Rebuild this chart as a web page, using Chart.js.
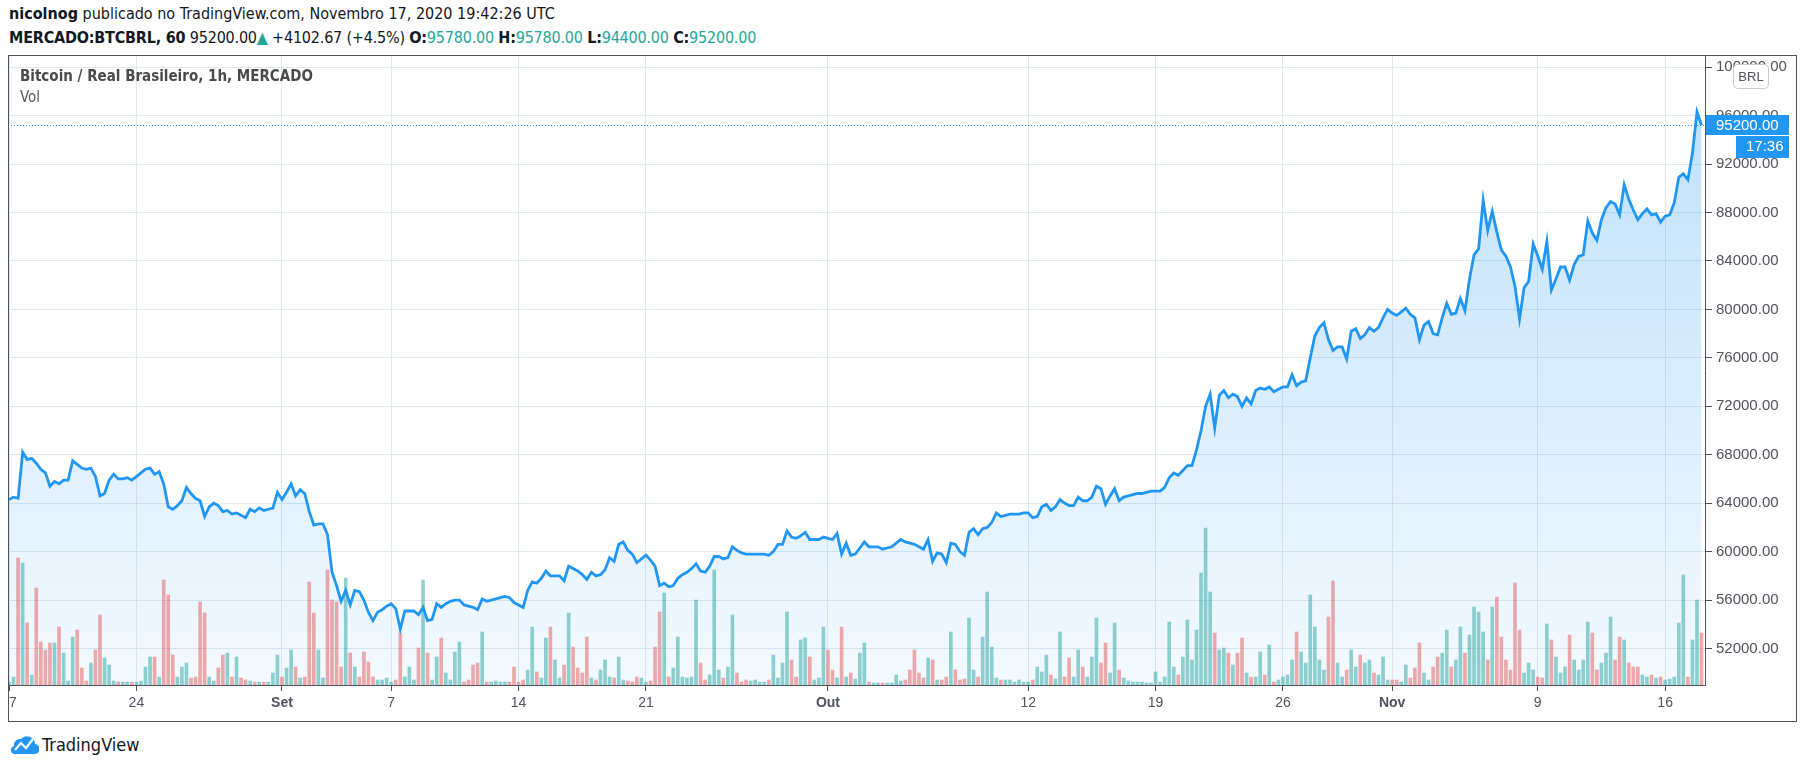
<!DOCTYPE html>
<html>
<head>
<meta charset="utf-8">
<script src="https://cdn.jsdelivr.net/npm/chart.js@4.4.0/dist/chart.umd.min.js"></script>
<style>
  html, body { margin: 0; padding: 0; background: #fff; }
  body { width: 1805px; height: 768px; position: relative; overflow: hidden;
         font-family: "Liberation Sans Narrow", "DejaVu Sans Condensed", "Liberation Sans", Arial, sans-serif; color: #131722; }
  .hdr { position: absolute; left: 9px; white-space: nowrap; font-size: 16px; line-height: 20px; }
  #h1 { top: 4px; }
  #h2 { top: 28px; letter-spacing: -0.2px; }
  .b { font-weight: bold; }
  .up { color: #26a69a; }
  #wrap { position: absolute; left: 8px; top: 55px; width: 1789px; height: 667px; }
  #title { position: absolute; left: 20px; top: 67px; font-size: 15px; font-weight: bold; color: #4a4a4a; white-space: nowrap; }
  #vol { position: absolute; left: 20px; top: 88px; font-size: 15px; color: #5a5a5a; }
  #logo { position: absolute; left: 11px; top: 733px; height: 22px; display: flex; align-items: center; font-size: 18px; color: #131722; }
  #logo svg { margin-right: 3px; }
</style>
</head>
<body>
<div class="hdr" id="h1"><span class="b">nicolnog</span> publicado no TradingView.com, Novembro 17, 2020 19:42:26 UTC</div>
<div class="hdr" id="h2"><span class="b">MERCADO:BTCBRL, 60</span> 95200.00<span class="up">▲</span> +4102.67 (+4.5%) <span class="b">O:</span><span class="up">95780.00</span> <span class="b">H:</span><span class="up">95780.00</span> <span class="b">L:</span><span class="up">94400.00</span> <span class="b">C:</span><span class="up">95200.00</span></div>
<div id="wrap"><canvas id="c" width="1789" height="667"></canvas></div>
<div id="title">Bitcoin / Real Brasileiro, 1h, MERCADO</div>
<div id="vol">Vol</div>
<div id="logo"><svg width="28" height="22" viewBox="0 0 28 22"><path d="M5 21 H23 A5 5 0 0 0 24 11 A8 8 0 0 0 10 6 A6 6 0 0 0 3 13 A4 4 0 0 0 5 21Z" fill="#2196f3"/><polyline points="4,17 10,10 15,15 22,6" stroke="#fff" stroke-width="2.2" fill="none"/></svg>TradingView</div>
<script>
// one sample every 6 hours, starting 17 Aug 2020 00:00
const samplesPerDay = 4;

const priceBRL = [
  64300, 64500, 64400, 68200, 67600, 67700, 67300, 66800, 66500, 65400,
  65800, 65600, 65900, 65900, 67500, 67200, 66900, 66800, 66900, 66200,
  64600, 64800, 65900, 66400, 66000, 66000, 66100, 65900, 66200, 66500,
  66800, 66900, 66400, 66600, 65600, 63700, 63500, 63800, 64200, 65300,
  64800, 64400, 64200, 62900, 63700, 64000, 63800, 63300, 63400, 63100,
  63200, 63000, 62800, 63500, 63300, 63600, 63400, 63500, 63600, 64900,
  64300, 64900, 65600, 64600, 65100, 64800, 63300, 62200, 62300, 62300,
  61400, 58300, 57200, 55900, 56800, 55600, 56800, 56700, 56000, 55000,
  54300, 55000, 55200, 55500, 55700, 55300, 53600, 55100, 55100, 55100,
  54800, 55400, 54300, 54400, 55700, 55400, 55700, 55900, 56000, 56000,
  55600, 55500, 55400, 55200, 56100, 55900, 56000, 56100, 56200, 56300,
  56200, 55800, 55600, 55400, 56800, 57500, 57400, 57800, 58400, 58000,
  58000, 58000, 57600, 58800, 58600, 58400, 58100, 57700, 58300, 58000,
  58100, 58500, 59500, 59200, 60600, 60800, 60100, 59800, 59100, 59400,
  59700, 59300, 58800, 57200, 57400, 57100, 57200, 57800, 58100, 58300,
  58600, 59000, 58400, 58300, 58800, 59600, 59600, 59400, 59500, 60400,
  60100, 59900, 59800, 59800, 59800, 59800, 59800, 59700, 60000, 60600,
  60600, 61700, 61200, 61100, 61300, 61600, 61000, 61000, 61000, 61200,
  61100, 61000, 61500, 59800, 60700, 59700, 59800, 60300, 60800, 60400,
  60400, 60400, 60200, 60300, 60400, 60700, 61000, 60800, 60700, 60600,
  60400, 60200, 61000, 59200, 59900, 59800, 59100, 60700, 60600, 60000,
  59700, 61600, 61900, 61400, 61900, 62000, 62400, 63200, 62900, 63000,
  63100, 63100, 63100, 63200, 63200, 62800, 62900, 63700, 63900, 63400,
  63700, 64300, 64000, 63800, 63800, 64500, 64200, 64200, 64500, 65400,
  65200, 63900, 64600, 65200, 64200, 64500, 64600, 64700, 64800, 64800,
  64900, 65000, 65000, 65000, 65300, 66100, 66500, 66300, 66700, 67100,
  67100, 68400, 70000, 72000, 73000, 70200, 72900, 73300, 72700, 73000,
  72800, 72000, 72700, 72200, 73300, 73500, 73400, 73600, 73200, 73400,
  73600, 73600, 74600, 73700, 74000, 74100, 76000, 77800, 78500, 78900,
  77500, 76600, 76900, 76900, 75900, 78200, 78400, 77600, 77900, 78500,
  78200, 78500, 79300, 80000, 79700, 79500, 79800, 80100, 79600, 79300,
  77500, 78700, 79000, 78000, 77900, 79300, 80500, 79600, 79700, 80900,
  79900, 82500, 84500, 85000, 89000, 86500, 88100, 86400, 84900, 84400,
  83500, 81900, 79200, 81800, 82300, 85400, 84400, 83300, 85600, 81600,
  82500, 83500, 83500, 82400, 83700, 84400, 84500, 87300, 86300, 85700,
  87400, 88400, 88900, 88700, 87800, 90300, 89100, 88200, 87400, 87900,
  88300, 87800, 87900, 87200, 87700, 87800, 88800, 90900, 91200, 90700,
  92900, 96300, 95200
];

const volume = [
  3, 8, 127, 122, 62, 10, 97, 43, 35, 42,
  42, 58, 32, 4, 48, 55, 17, 4, 22, 35,
  70, 27, 20, 4, 3, 3, 3, 3, 3, 4,
  18, 28, 28, 8, 105, 90, 30, 8, 18, 22,
  7, 8, 83, 72, 8, 4, 17, 30, 32, 8,
  28, 7, 5, 4, 3, 3, 3, 3, 12, 30,
  8, 17, 35, 18, 7, 8, 103, 72, 35, 7,
  115, 85, 83, 18, 107, 32, 18, 8, 33, 23,
  8, 5, 5, 7, 3, 5, 52, 8, 18, 5,
  37, 105, 32, 5, 28, 47, 12, 5, 33, 43,
  3, 5, 20, 22, 53, 3, 3, 4, 3, 3,
  3, 18, 3, 5, 15, 58, 13, 7, 47, 58,
  25, 7, 20, 72, 38, 17, 12, 48, 7, 5,
  15, 25, 8, 7, 28, 5, 4, 3, 8, 7,
  3, 4, 38, 73, 92, 8, 17, 48, 8, 7,
  8, 85, 22, 5, 10, 115, 15, 7, 18, 70,
  12, 3, 5, 4, 5, 3, 3, 5, 30, 7,
  22, 73, 25, 8, 45, 47, 28, 5, 7, 58,
  35, 15, 7, 58, 8, 12, 6, 32, 42, 3,
  2, 2, 2, 2, 2, 10, 4, 5, 15, 35,
  12, 7, 27, 25, 5, 5, 8, 53, 15, 5,
  6, 67, 15, 8, 48, 93, 38, 7, 5, 5,
  5, 3, 5, 3, 3, 5, 18, 13, 30, 10,
  6, 53, 8, 27, 8, 35, 18, 8, 28, 67,
  22, 42, 12, 62, 15, 7, 4, 3, 3, 3,
  2, 2, 13, 3, 8, 63, 18, 10, 28, 65,
  25, 55, 112, 157, 93, 52, 35, 37, 32, 20,
  32, 47, 12, 8, 8, 33, 10, 40, 3, 5,
  8, 10, 25, 53, 33, 22, 90, 58, 25, 15,
  68, 104, 22, 8, 15, 35, 18, 30, 22, 25,
  12, 10, 28, 5, 5, 5, 3, 20, 7, 17,
  42, 12, 5, 18, 28, 32, 55, 18, 25, 58,
  32, 50, 78, 73, 53, 25, 78, 88, 48, 25,
  15, 102, 55, 12, 22, 15, 8, 7, 61, 45,
  28, 12, 18, 50, 25, 15, 25, 63, 52, 15,
  22, 32, 68, 25, 48, 45, 22, 18, 18, 10,
  8, 10, 7, 8, 5, 6, 8, 62, 110, 8,
  45, 85, 52
];

const priceTicks = [52000, 56000, 60000, 64000, 68000, 72000, 76000, 80000, 84000, 88000, 92000, 96000, 100000];
// days since 17 Aug 2020
const dayTicks = [0, 7, 15, 21, 28, 35, 45, 56, 63, 70, 76, 84, 91];
const dayLabels = ['17', '24', 'Set', '7', '14', '21', 'Out', '12', '19', '26', 'Nov', '9', '16'];

const lastPrice = 95200;
const countdown = '17:36';
const currency = 'BRL';

const axisFont = '"Liberation Sans", Arial, sans-serif';
const gridColor = '#e0e8ef';
const frameColor = '#50535e';

const priceData = priceBRL.map((v, i) => ({ x: i / samplesPerDay, y: v }));
const volData = volume.map((v, i) => ({ x: i / samplesPerDay, y: v }));
const volColors = priceBRL.map((v, i) =>
  (i === 0 || v >= priceBRL[i - 1]) ? 'rgba(38,166,154,0.5)' : 'rgba(239,83,80,0.5)');

const framePlugin = {
  id: 'frame',
  afterDatasetsDraw(chart) {
    const { ctx, chartArea: a, scales } = chart;
    const py = Math.round(scales.y.getPixelForValue(lastPrice)) + 0.5;
    ctx.save();
    ctx.strokeStyle = '#2196f3';
    ctx.lineWidth = 1;
    ctx.setLineDash([1, 2]);
    ctx.beginPath();
    ctx.moveTo(a.left, py);
    ctx.lineTo(a.right, py);
    ctx.stroke();
    ctx.restore();
  },
  afterDraw(chart) {
    const { ctx, chartArea: a, scales, width, height } = chart;
    ctx.save();
    ctx.strokeStyle = frameColor;
    ctx.lineWidth = 1;
    ctx.strokeRect(0.5, 0.5, width - 1, height - 1);

    const py = Math.round(scales.y.getPixelForValue(lastPrice));
    ctx.fillStyle = '#2196f3';
    ctx.fillRect(a.right + 1, py - 10, 83, 20);
    ctx.fillRect(a.right + 31, py + 11, 53, 22);
    ctx.fillStyle = '#fff';
    ctx.font = '15px ' + axisFont;
    ctx.textBaseline = 'middle';
    ctx.textAlign = 'left';
    ctx.fillText(lastPrice.toFixed(2), a.right + 11, py + 1);
    ctx.fillText(countdown, a.right + 41, py + 22);

    // currency tag
    ctx.beginPath();
    ctx.roundRect(a.right + 28.5, 9.5, 35, 24, 4);
    ctx.fillStyle = '#fff';
    ctx.fill();
    ctx.strokeStyle = '#c8cbd3';
    ctx.stroke();
    ctx.fillStyle = '#50535e';
    ctx.font = '13px ' + axisFont;
    ctx.textAlign = 'center';
    ctx.fillText(currency, a.right + 46, 22);
    ctx.restore();
  }
};

new Chart(document.getElementById('c'), {
  type: 'line',
  data: {
    datasets: [{
      type: 'line',
      data: priceData,
      borderColor: '#2196f3',
      borderWidth: 2.8,
      pointRadius: 0,
      tension: 0,
      fill: 'start',
      order: 0,
      backgroundColor: (c) => {
        const { chart } = c;
        const { ctx, chartArea, scales } = chart;
        if (!chartArea) return 'rgba(33,150,243,0.1)';
        const top = scales.y.getPixelForValue(Math.max(...priceBRL));
        const g = ctx.createLinearGradient(0, top, 0, chartArea.bottom);
        g.addColorStop(0, 'rgba(33,150,243,0.28)');
        g.addColorStop(1, 'rgba(33,150,243,0.05)');
        return g;
      }
    }, {
      type: 'bar',
      data: volData,
      yAxisID: 'yVol',
      backgroundColor: volColors,
      barThickness: 3,
      order: 1
    }]
  },
  options: {
    responsive: false,
    animation: false,
    devicePixelRatio: 1,
    layout: { padding: 0 },
    plugins: { legend: { display: false }, tooltip: { enabled: false } },
    scales: {
      x: {
        type: 'linear',
        min: -0.055,
        max: 93.19,
        offset: false,
        grid: { color: gridColor, tickColor: frameColor, tickLength: 6, offset: false },
        border: { color: frameColor },
        afterBuildTicks: (s) => { s.ticks = dayTicks.map(v => ({ value: v })); },
        afterFit: (s) => { s.height = 37; s.paddingLeft = 0; s.paddingRight = 0; },
        ticks: {
          autoSkip: false,
          maxRotation: 0,
          padding: 4,
          color: '#50535e',
          font: (c) => ({ family: axisFont, size: 14, weight: isNaN(+dayLabels[c.index]) ? 'bold' : 'normal' }),
          callback: (v, i) => dayLabels[i]
        }
      },
      y: {
        position: 'right',
        min: 48990,
        max: 101000,
        grid: { color: gridColor, tickColor: frameColor, tickLength: 7 },
        border: { color: frameColor },
        afterBuildTicks: (s) => { s.ticks = priceTicks.map(v => ({ value: v })); },
        afterFit: (s) => { s.width = 92; s.paddingTop = 0; s.paddingBottom = 0; },
        ticks: {
          padding: 4,
          color: '#50535e',
          font: { family: axisFont, size: 15 },
          callback: (v) => v.toFixed(2)
        }
      },
      yVol: {
        display: false,
        min: 0,
        max: 630
      }
    }
  },
  plugins: [framePlugin]
});
</script>
</body>
</html>
